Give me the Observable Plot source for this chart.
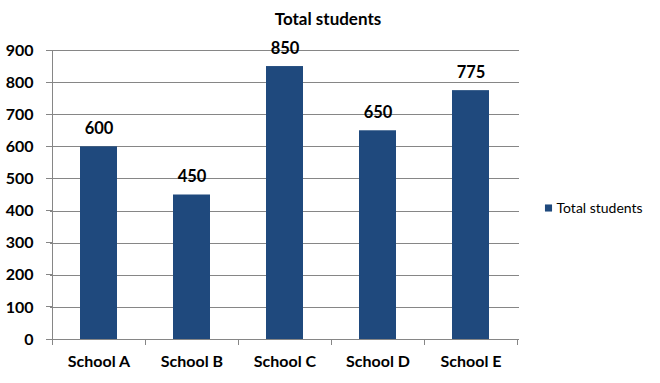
<!DOCTYPE html>
<html>
<head>
<meta charset="utf-8">
<script src="https://cdn.jsdelivr.net/npm/d3@7"></script>
<script src="https://cdn.jsdelivr.net/npm/@observablehq/plot@0.6"></script>
<style>
  html, body { margin: 0; padding: 0; background: #fff; }
  #chart svg { display: block; }
</style>
</head>
<body>
<div id="chart"></div>
<script>
const schools = ["School A", "School B", "School C", "School D", "School E"];
const students = [600, 450, 850, 650, 775];
const yTicks = [0, 100, 200, 300, 400, 500, 600, 700, 800, 900];
const seriesName = "Total students";
const titleText = "Total students";

const data = schools.map((s, i) => ({school: s, value: students[i]}));

const barColor = "#1F497D";
const gridColor = "#868686";

function axisLines(index, scales, values, dimensions) {
  const x = scales.x, y = scales.y;
  const ns = "http://www.w3.org/2000/svg";
  const g = document.createElementNS(ns, "g");
  const line = (x1, y1, x2, y2) => {
    const l = document.createElementNS(ns, "line");
    l.setAttribute("x1", x1); l.setAttribute("y1", y1);
    l.setAttribute("x2", x2); l.setAttribute("y2", y2);
    l.setAttribute("stroke", gridColor);
    l.setAttribute("stroke-width", 1);
    l.setAttribute("shape-rendering", "crispEdges");
    g.appendChild(l);
  };
  const starts = schools.map(s => x(s));
  const step = starts[1] - starts[0];
  const bounds = [...starts, starts[starts.length - 1] + step];
  const y0 = y(0), yTop = y(yTicks[yTicks.length - 1]);
  line(bounds[0], yTop, bounds[0], y0);
  for (const t of yTicks) line(bounds[0] - 6, y(t), bounds[0], y(t));
  for (const b of bounds) line(b, y0, b, y0 + 6);
  return g;
}

const plot = Plot.plot({
  width: 660,
  height: 383,
  marginTop: 50,
  marginBottom: 44,
  marginLeft: 50,
  marginRight: 141,
  style: {fontFamily: "Lato, 'Open Sans', sans-serif", fontSize: "16px", fontWeight: "bold", color: "#000", background: "#fff"},
  x: {domain: schools, padding: 0, label: null, tickSize: 0, tickPadding: 16},
  y: {domain: [0, 900], ticks: yTicks, label: null, tickSize: 0, tickPadding: 17},
  marks: [
    Plot.ruleY(yTicks, {y: d => d, stroke: gridColor, strokeWidth: 1, shapeRendering: "crispEdges"}),
    Plot.barY(data, {x: "school", y: "value", fill: barColor, insetLeft: 28, insetRight: 28}),
    axisLines,
    Plot.text(data, {x: "school", y: "value", text: d => String(d.value), dy: -18, fontSize: 16.5, fontWeight: "bold", fill: "#000"}),
    Plot.text([titleText], {text: d => d, frameAnchor: "top", lineAnchor: "middle", dx: 43, dy: -31, fontSize: 17, fontWeight: "bold", fill: "#000"}),
    Plot.dot([seriesName], {frameAnchor: "right", dx: 29, dy: 13, symbol: "square", r: 4, fill: barColor, stroke: "none"}),
    Plot.text([seriesName], {text: d => d, frameAnchor: "right", textAnchor: "start", dx: 37, dy: 14, fontSize: 14, fontWeight: "normal", fill: "#000"})
  ]
});
document.getElementById("chart").appendChild(plot);
</script>
</body>
</html>
